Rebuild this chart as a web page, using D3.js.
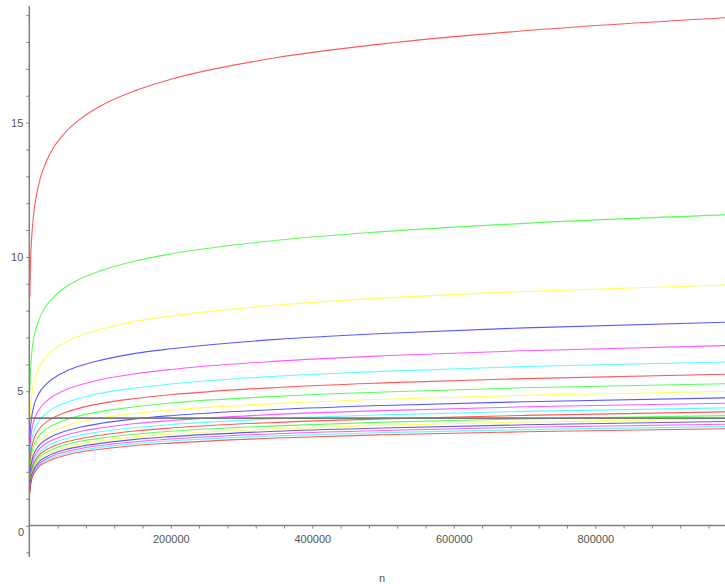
<!DOCTYPE html>
<html>
<head>
<meta charset="utf-8">
<script src="https://cdn.jsdelivr.net/npm/d3@7"></script>
<style>
  html, body { margin:0; padding:0; background:#fff; }
  svg text { font-family: Arial, "Liberation Sans", sans-serif; font-size:11px; fill:#555; }
</style>
</head>
<body>
<div class="plot-sec"></div>
<script>
// sample points along n, and the value of each curve read at those points
var nValues = [724, 1500, 3000, 6000, 12000, 25000, 35000, 50000, 75000, 100000, 150000, 200000, 350000, 500000, 700000, 1000000];

var curve2  = [8.50, 9.55, 10.55, 11.55, 12.55, 13.61, 14.10, 14.61, 15.19, 15.61, 16.19, 16.61, 17.42, 17.93, 18.42, 18.93];
var curve3  = [4.99, 5.66, 6.29, 6.92, 7.55, 8.22, 8.52, 8.85, 9.22, 9.48, 9.85, 10.11, 10.62, 10.94, 11.25, 11.58];
var curve4  = [3.75, 4.28, 4.78, 5.28, 5.78, 6.30, 6.55, 6.80, 7.10, 7.30, 7.60, 7.80, 8.21, 8.47, 8.71, 8.97];
var curve5  = [3.09, 3.54, 3.97, 4.41, 4.84, 5.29, 5.50, 5.72, 5.97, 6.15, 6.41, 6.58, 6.93, 7.15, 7.36, 7.58];
var curve6  = [2.68, 3.08, 3.47, 3.86, 4.24, 4.65, 4.84, 5.04, 5.26, 5.43, 5.65, 5.81, 6.12, 6.32, 6.51, 6.71];
var curve7  = [2.38, 2.76, 3.11, 3.47, 3.83, 4.20, 4.38, 4.56, 4.77, 4.92, 5.12, 5.27, 5.56, 5.74, 5.92, 6.10];
var curve8  = [2.17, 2.52, 2.85, 3.18, 3.52, 3.87, 4.03, 4.20, 4.40, 4.54, 4.73, 4.87, 5.14, 5.31, 5.47, 5.64];
var curve9  = [2.00, 2.33, 2.64, 2.96, 3.27, 3.61, 3.76, 3.92, 4.11, 4.24, 4.42, 4.56, 4.81, 4.97, 5.13, 5.29];
var curve10 = [1.86, 2.18, 2.48, 2.78, 3.08, 3.40, 3.54, 3.70, 3.88, 4.00, 4.18, 4.30, 4.54, 4.70, 4.85, 5.00];
var curve11 = [1.75, 2.05, 2.34, 2.63, 2.92, 3.22, 3.36, 3.51, 3.68, 3.80, 3.97, 4.09, 4.32, 4.47, 4.61, 4.76];
var curve12 = [1.65, 1.94, 2.22, 2.50, 2.78, 3.08, 3.21, 3.35, 3.52, 3.63, 3.80, 3.91, 4.14, 4.28, 4.42, 4.56];
var curve13 = [1.57, 1.85, 2.12, 2.39, 2.66, 2.95, 3.08, 3.22, 3.38, 3.49, 3.65, 3.76, 3.98, 4.12, 4.25, 4.39];
var curve14 = [1.50, 1.77, 2.03, 2.30, 2.56, 2.84, 2.96, 3.10, 3.25, 3.36, 3.52, 3.63, 3.84, 3.97, 4.10, 4.24];
var curve15 = [1.43, 1.70, 1.96, 2.21, 2.47, 2.74, 2.86, 3.00, 3.15, 3.25, 3.40, 3.51, 3.71, 3.85, 3.97, 4.10];
var curve16 = [1.37, 1.64, 1.89, 2.14, 2.39, 2.65, 2.77, 2.90, 3.05, 3.15, 3.30, 3.40, 3.60, 3.73, 3.85, 3.98];
var curve17 = [1.32, 1.58, 1.83, 2.07, 2.32, 2.57, 2.69, 2.82, 2.96, 3.06, 3.21, 3.31, 3.51, 3.63, 3.75, 3.88];
var curve18 = [1.28, 1.53, 1.77, 2.01, 2.25, 2.50, 2.62, 2.74, 2.88, 2.98, 3.12, 3.22, 3.42, 3.54, 3.66, 3.78];
var curve19 = [1.24, 1.48, 1.72, 1.95, 2.19, 2.44, 2.55, 2.67, 2.81, 2.91, 3.05, 3.15, 3.34, 3.46, 3.57, 3.69];
var curve20 = [1.20, 1.44, 1.67, 1.90, 2.14, 2.38, 2.49, 2.61, 2.75, 2.84, 2.98, 3.07, 3.26, 3.38, 3.49, 3.61];

// the flat grey line
var levelLine = [4, 4];
var levelN = [0, 1000000];

var curveColors = ['#ff0000', '#00ff00', '#ffff00', '#0000ff', '#ff00ff', '#00ffff'];

var xTickLabels = [200000, 400000, 600000, 800000];
var yTickLabels = [0, 5, 10, 15];

(function(){
	'use strict';

	var curves = [curve2, curve3, curve4, curve5, curve6, curve7, curve8, curve9, curve10,
		curve11, curve12, curve13, curve14, curve15, curve16, curve17, curve18, curve19, curve20];

	var width = 725, height = 584;

	var svg = d3.select('.plot-sec').append('svg')
		.attr('width', width).attr('height', height);

	var x = d3.scaleLinear().domain([0, 1000000]).range([29.3, 736.8]);
	var y = d3.scaleLinear().domain([-1.17, 19.34]).range([557, 6]);

	var line = d3.line()
		.x(function(d){ return x(d[0]); })
		.y(function(d){ return y(d[1]); })
		.curve(d3.curveMonotoneX);

	// curves
	var g = svg.append('g').attr('class', 'curves');

	curves.forEach(function(vals, i){
		var pts = nValues.map(function(n, j){ return [n, vals[j]]; });
		g.append('path')
			.attr('d', line(pts))
			.attr('fill', 'none')
			.attr('stroke', curveColors[i % curveColors.length])
			.attr('stroke-opacity', 0.65)
			.attr('stroke-width', 1.1);
	});

	g.append('path')
		.attr('d', line(levelN.map(function(n, j){ return [n, levelLine[j]]; })))
		.attr('fill', 'none')
		.attr('stroke', '#7a7a7a')
		.attr('stroke-width', 1.6);

	// axes
	var axisColor = '#808080';

	var xAxis = d3.axisBottom(x)
		.tickValues(d3.range(40000, 1000001, 40000))
		.tickSize(3)
		.tickFormat(function(d){ return xTickLabels.indexOf(d) >= 0 ? d : ''; });

	var gx = svg.append('g').attr('transform', 'translate(0,' + y(0) + ')').call(xAxis);
	gx.select('.domain').attr('d', 'M' + x(0) + ',0H' + width);

	var yAxis = d3.axisLeft(y)
		.tickValues(d3.range(-1, 20, 1))
		.tickSize(3)
		.tickFormat(function(d){ return (yTickLabels.indexOf(d) >= 0 && d !== 0) ? d : ''; });

	var gy = svg.append('g').attr('transform', 'translate(' + x(0) + ',0)').call(yAxis);
	gy.select('.domain').attr('d', 'M0,' + y(-1.17) + 'V' + y(19.34));

	svg.selectAll('.domain').attr('stroke', axisColor).attr('stroke-width', 1.5);
	svg.selectAll('.tick line').attr('stroke', axisColor);
	svg.selectAll('.tick text')
		.attr('fill', '#555').style('font-family', 'Arial, "Liberation Sans", sans-serif').style('font-size', '11px');
	gx.selectAll('.tick text').attr('dy', '1.05em');
	gy.selectAll('.tick text').attr('x', -6);

	// the 0 label sits a bit below the axis
	svg.append('text')
		.attr('x', 24).attr('y', y(0) + 10)
		.attr('text-anchor', 'end')
		.text(yTickLabels[0]);

	svg.append('text')
		.attr('x', 382).attr('y', 582)
		.attr('text-anchor', 'middle')
		.text('n');

})();
</script>
</body>
</html>
